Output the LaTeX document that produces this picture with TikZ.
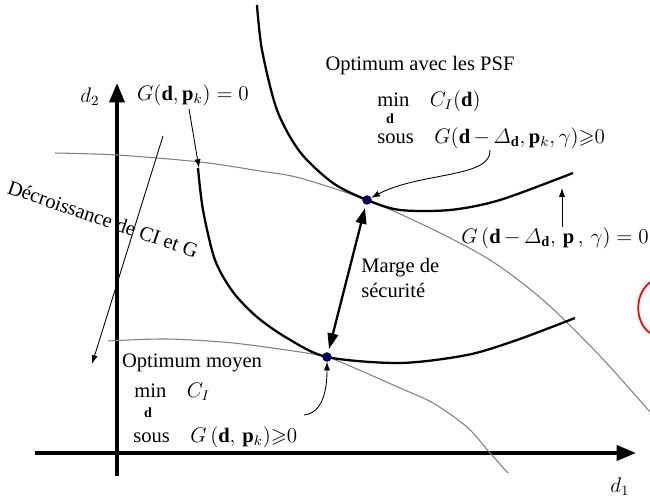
\documentclass[tikz,border=0pt]{standalone}
\usepackage{amsmath,amssymb}
\usepackage{fontspec}
\setmainfont{Liberation Serif}
\usetikzlibrary{arrows.meta}

\tikzset{
  axis/.style={line width=2.2pt, -{Triangle[length=11pt,width=8.5pt]}},
  curve/.style={line width=1.3pt},
  level/.style={gray, line width=0.6pt},
  pointer/.style={line width=0.5pt, -{Latex[length=5pt,width=3.5pt]}},
  marge/.style={line width=1.3pt, {Triangle[length=9pt,width=6pt]}-{Triangle[length=9pt,width=6pt]}},
  optdot/.style={circle, fill=blue!45!black, draw=black, line width=0.3pt, inner sep=0pt, minimum size=5pt},
  lbl/.style={font=\fontsize{11.7}{14}\selectfont, inner sep=0pt},
}

\begin{document}
\begin{tikzpicture}[x=0.02cm, y=-0.02cm]
% picture frame in pixels, y down: 650 x 500
\useasboundingbox (0,0) rectangle (650,500);

% Axes
\draw[axis] (35,453) -- (636,453);
\draw[axis] (117,476) -- (117,83);
\node[lbl] (d1) at (620,487) {$d_1$};
\node[lbl] (d2) at (90,97) {$d_2$};

% Gray level curves of CI
\draw[level] plot[smooth] coordinates {(55,153) (117,155) (200,162) (260,171) (300,178) (367,200) (430,228) (490,260) (543,300) (600,356) (650,412)};
\draw[level] plot[smooth] coordinates {(108,341) (167,339) (233,343) (300,352) (327,357) (350,366) (400,388) (433,403) (467,427) (490,453) (508,473)};

% Limit state curves
% G(d,p_k)=0
\draw[curve] plot[smooth] coordinates {(198,168) (203,210) (215,260) (233,292) (257,317) (287,338) (327,357) (400,363) (467,355) (517,340) (575,318)};
% G(d-Delta_d,p,gamma)=0
\draw[curve] plot[smooth] coordinates {(257,5) (262,50) (277,110) (300,152) (333,183) (367,200) (400,210) (450,210) (500,200) (573,173)};

% Optima
\node[optdot] (optU) at (367,200) {};
\node[optdot] (optL) at (327,357) {};
\draw[marge, shorten <=2pt, shorten >=2pt] (optU) -- (optL);
\node[lbl, align=left, anchor=west] (marge) at (361,278) {Marge de\\sécurité};

% Curve labels
\node[lbl] (gLow) at (193,95) {$G(\mathbf{d},\mathbf{p}_k)=0$};
\coordinate (lowStart) at (199,168);
\draw[pointer] (189,109) -- (lowStart);

\node[lbl, anchor=east] (gUp) at (649,238) {$G\,(\mathbf{d}\,{-}\,\varDelta_{\mathbf{d}},\,\mathbf{p}\,,\,\gamma)=0$};
\coordinate (upEnd) at (562,188);
\draw[pointer] (gUp.north -| upEnd) -- (upEnd);

% Optimum with PSF
\node[lbl] (psf) at (420,66) {Optimum avec les PSF};
\node[lbl, anchor=west] (minU) at (377,101) {min\quad$C_I(\mathbf{d})$};
\node[lbl, font=\fontsize{8}{9}\selectfont] (subU) at (390,119) {$\mathbf{d}$};
\node[lbl, anchor=west] (sousU) at (377,138) {sous\quad$G(\mathbf{d}\,{-}\,\varDelta_{\mathbf{d}},\mathbf{p}_k,\gamma)\mathord{\geqslant}0$};
\coordinate (psfFrom) at (490,150);
\draw[pointer] (psfFrom) .. controls (492,178) and (420,172) .. (optU);

% Mean optimum
\node[lbl] (moyen) at (192,363) {Optimum moyen};
\node[lbl, anchor=west] (minL) at (134,392) {min\quad$C_I$};
\node[lbl, font=\fontsize{8}{9}\selectfont] (subL) at (148,413) {$\mathbf{d}$};
\node[lbl, anchor=west] (sousL) at (133,437) {sous\quad$G\,(\mathbf{d},\,\mathbf{p}_k)\mathord{\geqslant}0$};
\coordinate (moyFrom) at (304,415);
\draw[pointer] (moyFrom) .. controls (322,413) and (327,392) .. (optL);

% Decrease direction
\node[lbl, rotate=-19] (decr) at (103,219) {Décroissance de CI et G};
\coordinate (decrA) at (163,136);
\coordinate (decrB) at (92,364);
\draw[pointer] (decrA) -- (decrB);

% red mark at the right edge
\draw[red, line width=1pt] (652,281) .. controls (634,292) and (634,322) .. (650,333);
\end{tikzpicture}
\end{document}
